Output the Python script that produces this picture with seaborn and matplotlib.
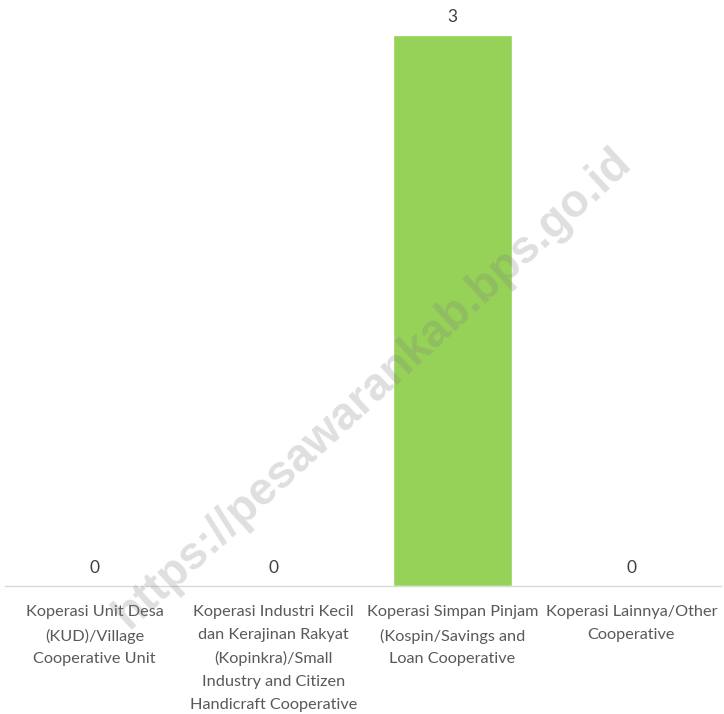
import matplotlib
matplotlib.use("Agg")
import matplotlib.pyplot as plt
import seaborn as sns
import pandas as pd

categories = [
    "Koperasi Unit Desa\n(KUD)/Village\nCooperative Unit",
    "Koperasi Industri Kecil\ndan Kerajinan Rakyat\n(Kopinkra)/Small\nIndustry and Citizen\nHandicraft Cooperative",
    "Koperasi Simpan Pinjam\n(Kospin/Savings and\nLoan Cooperative",
    "Koperasi Lainnya/Other\nCooperative",
]
values = [0, 0, 3, 0]
value_labels = ["0", "0", "3", "0"]

sns.set_theme(style="white")
plt.rcParams['font.family'] = ['Lato', 'DejaVu Sans']

df = pd.DataFrame({"cat": categories, "val": values})

fig = plt.figure(figsize=(7.24, 7.14), dpi=100)
ax = fig.add_axes([5/724, 1 - 586/714, 716/724, (586 - 35)/714])
sns.barplot(data=df, x="cat", y="val", color="#96D258", saturation=1, width=0.67, ax=ax)
ax.set_ylim(0, 3)
ax.set_xlim(-0.5, 3.5)
ax.set_xlabel("")
ax.set_ylabel("")
ax.set_yticks([])
for s in ["top", "right", "left"]:
    ax.spines[s].set_visible(False)
ax.spines["bottom"].set_color("#D9D9D9")
ax.spines["bottom"].set_linewidth(1.0)
ax.tick_params(axis="x", length=0, pad=14, labelsize=11.7, labelcolor="#595959")
for lab in ax.get_xticklabels():
    lab.set_linespacing(1.78)

for i, (v, t) in enumerate(zip(values, value_labels)):
    ax.annotate(t, (i, v), xytext=(0, 7), textcoords="offset points",
                ha="center", va="bottom", fontsize=12.5, color="#404040")

fig.text(373/724, 1 - 388/714, "https://pesawarankab.bps.go.id", rotation=42.7,
         ha="center", va="center", fontsize=33, fontweight="bold",
         family="Liberation Sans", color="#808080", alpha=0.25, zorder=10)

fig.savefig("out.png", dpi=100)
